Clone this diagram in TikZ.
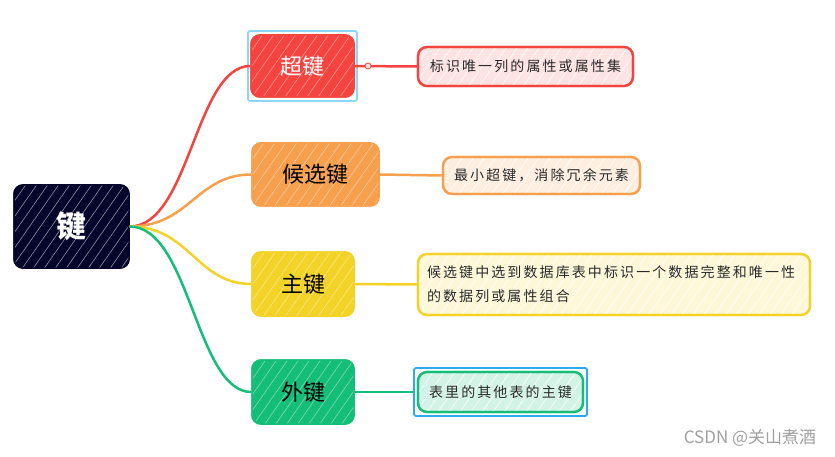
\documentclass[tikz,border=0pt]{standalone}
\usepackage{fontspec}
\setmainfont{Noto Sans CJK SC}
\newfontfamily\cjk{Noto Sans CJK SC}
\newfontfamily\cjksp[LetterSpace=15]{Noto Sans CJK SC}
\usetikzlibrary{patterns.meta}
\definecolor{rootc}{HTML}{05042B}
\definecolor{redc}{HTML}{F5443F}
\definecolor{redl}{HTML}{FDE3E2}
\definecolor{orac}{HTML}{F6A04E}
\definecolor{oral}{HTML}{FEEEE0}
\definecolor{yelc}{HTML}{F3D327}
\definecolor{yell}{HTML}{FEF8D9}
\definecolor{grec}{HTML}{14BE79}
\definecolor{grel}{HTML}{D3F3E6}
\definecolor{bluea}{HTML}{8ED6F7}
\definecolor{blueb}{HTML}{2EAAEF}
\definecolor{textdark}{HTML}{2A2A2A}
\definecolor{wm}{HTML}{A0A0A0}
\begin{document}
\begin{tikzpicture}[x=1pt,y=-1pt,
  every node/.style={inner sep=0pt},
  hatch/.style={postaction={pattern={Lines[angle=55,distance=9pt,line width=0.6pt]},pattern color=#1}, postaction={draw}},
  branchbox/.style={rounded corners=9pt, line width=1.5pt},
  branchfont/.style={font=\cjk\fontsize{22}{22}\selectfont},
  detailbox/.style={rounded corners=9pt, line width=2.2pt, text=textdark, font=\cjksp\fontsize{14}{24}\selectfont},
  link/.style={line width=2.5pt},
  selframe/.style={draw=#1, line width=1.8pt, rounded corners=2pt}
]
\useasboundingbox (0,0) rectangle (835,457);
\fill[white] (0,0) rectangle (835,457);

% selection frames
\node[selframe=bluea, minimum width=109pt, minimum height=70pt] (f1) at (302.5,66) {};
\node[selframe=blueb, minimum width=173pt, minimum height=48pt] (f2) at (500.5,392) {};

% root
\node[branchbox, fill=rootc, draw=rootc, hatch=white!55!rootc, minimum width=115pt, minimum height=83pt, text=white, font=\cjk\bfseries\fontsize{30}{30}\selectfont] (root) at (71.5,226.5) {键};

% branches
\node[branchbox, branchfont, fill=redc, draw=redc, hatch=white!45!redc, text=white, minimum width=103pt, minimum height=62pt] (b1) at (302.5,66) {超键};
\node[branchbox, branchfont, fill=orac, draw=orac, hatch=white!45!orac, text=black, minimum width=127pt, minimum height=63pt] (b2) at (315.5,174.5) {候选键};
\node[branchbox, branchfont, fill=yelc, draw=yelc, hatch=white!45!yelc, text=black, minimum width=102pt, minimum height=64pt] (b3) at (303,284) {主键};
\node[branchbox, branchfont, fill=grec, draw=grec, hatch=white!45!grec, text=black, minimum width=102pt, minimum height=64pt] (b4) at (303,392) {外键};

% details
\node[detailbox, fill=redl, draw=redc, hatch=white, minimum width=215pt, minimum height=39pt] (d1) at (525.5,66.5) {标识唯一列的属性或属性集};
\node[detailbox, fill=oral, draw=orac, hatch=white, minimum width=197pt, minimum height=37pt] (d2) at (541.5,175.5) {最小超键，消除冗余元素};
\node[detailbox, fill=yell, draw=yelc, hatch=white, minimum width=392pt, minimum height=61pt, text width=374pt, align=left] (d3) at (614,284.5) {候选键中选到数据库表中标识一个数据完整和唯一性\\的数据列或属性组合};
\node[detailbox, fill=grel, draw=grec, hatch=white, minimum width=165pt, minimum height=40pt] (d4) at (500.5,392) {表里的其他表的主键};

% connectors root -> branches
\draw[link, redc] (root.east) .. controls +(60,0) and +(-55,0) .. (b1.west);
\draw[link, orac] (root.east) .. controls +(60,0) and +(-55,0) .. (b2.west);
\draw[link, yelc] (root.east) .. controls +(60,0) and +(-55,0) .. (b3.west);
\draw[link, grec] (root.east) .. controls +(60,0) and +(-55,0) .. (b4.west);

% connectors branches -> details
\draw[link, redc] (b1.east) -- (d1.west);
\draw[link, orac] (b2.east) -- (d2.west);
\draw[link, yelc] (b3.east) -- (d3.west);
\draw[link, grec] (b4.east) -- (f2.west);

\node[circle, fill=redl, draw=redc, line width=0.8pt, minimum size=6pt] (dot) at (368,66) {};

% watermark
\node[text=wm, font=\cjk\fontsize{17}{17}\selectfont] (wmk) at (750,438) {CSDN @关山煮酒};
\end{tikzpicture}
\end{document}
